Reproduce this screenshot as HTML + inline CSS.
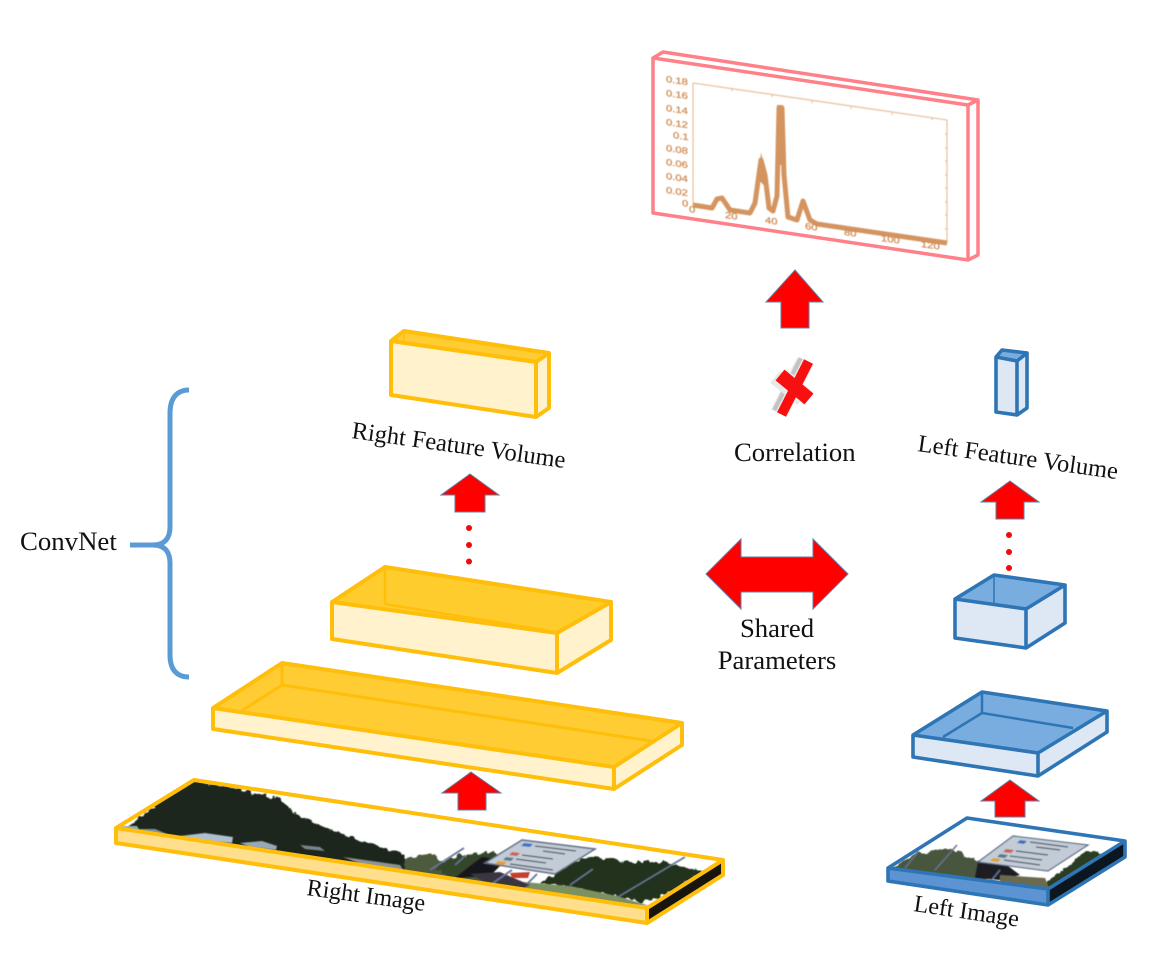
<!DOCTYPE html>
<html>
<head>
<meta charset="utf-8">
<style>
html,body{margin:0;padding:0;background:#fff;width:1169px;height:956px;overflow:hidden}
svg{display:block}
text{font-family:"Liberation Serif",serif;fill:#111;font-size:24.500px}
.c text{font-family:"Liberation Sans",sans-serif;fill:#cf8a50;font-size:9px;stroke:#cf8a50;stroke-width:.25}
.y{stroke:#ffbe0a;stroke-width:4;stroke-linejoin:round;fill:none}
.b{stroke:#2e75b6;stroke-width:3.600;stroke-linejoin:round;fill:none}
.p{stroke:#ff8088;stroke-width:3.500;stroke-linejoin:round;fill:none}
.a{fill:#ff0000;stroke:#5f7fa5;stroke-width:1}
</style>
</head>
<body>
<svg width="1169" height="956" viewBox="0 0 1169 956" xmlns="http://www.w3.org/2000/svg">
<defs>
<filter id="bl" x="-5%" y="-5%" width="110%" height="110%"><feGaussianBlur stdDeviation="0.5"/></filter>
<filter id="tr" x="-5%" y="-10%" width="110%" height="120%">
<feTurbulence type="fractalNoise" baseFrequency="0.16" numOctaves="2" seed="3" result="n"/>
<feDisplacementMap in="SourceGraphic" in2="n" scale="8" xChannelSelector="R" yChannelSelector="G"/>
<feGaussianBlur stdDeviation="0.5"/>
</filter>
<clipPath id="rc"><polygon points="194,780 723,860 647,908 116,828"/></clipPath>
<clipPath id="lc"><polygon points="967,818 1125,841 1048,889 888,868"/></clipPath>
</defs>

<!-- Pink chart box -->
<polygon points="653,58 968,105 968,260 653,213" fill="#fff"/>
<polygon points="653,58 663,52 978,100 968,105" fill="#fff"/>
<polygon points="968,105 978,100 978,255 968,260" fill="#fff"/>
<path class="p" d="M653,58 L968,105 L968,260 L653,213 Z M653,58 L663,52 L978,100 L968,105 M978,100 L978,255 L968,260"/>
<g filter="url(#bl)">
<path d="M693,83 L947,120 L947,243" fill="none" stroke="#e8c4a4" stroke-width="1.300"/>
<path d="M693,83 L693,205" fill="none" stroke="#e8c4a4" stroke-width="1.300"/>
<path d="M732,89v2M772,95v2M812,101v2M851,107v2M892,113v2M932,118v2M947,134h-2M947,148h-2M947,161h-2M947,175h-2M947,188h-2M947,202h-2M947,215h-2M947,229h-2" stroke="#e0b595" stroke-width="1" fill="none"/>
<polyline fill="none" stroke="#d49460" stroke-width="5" stroke-linejoin="round" points="693,205 712,208 717,199 722,198 730,210 750,213 755,203 761,160 765,175 769,208 773,211 777,196 779,108 782,108 784,175 788,217 797,220 803,201 810,220 817,224 947,243"/>
<path d="M777,105 L783,105 L785,165 L776,165 Z" fill="#d49460"/>
<path d="M761,152 L766,175 L768,190 L759,180 Z" fill="#d49460"/>
<g class="c">
<text transform="translate(666,82) skewY(8) scale(1.250,1)">0.18</text>
<text transform="translate(666,96) skewY(8) scale(1.250,1)">0.16</text>
<text transform="translate(666,111) skewY(8) scale(1.250,1)">0.14</text>
<text transform="translate(666,125) skewY(8) scale(1.250,1)">0.12</text>
<text transform="translate(673,138) skewY(8) scale(1.250,1)">0.1</text>
<text transform="translate(666,151) skewY(8) scale(1.250,1)">0.08</text>
<text transform="translate(666,165) skewY(8) scale(1.250,1)">0.06</text>
<text transform="translate(666,179) skewY(8) scale(1.250,1)">0.04</text>
<text transform="translate(666,193) skewY(8) scale(1.250,1)">0.02</text>
<text transform="translate(682,206) skewY(8) scale(1.250,1)">0</text>
<text transform="translate(689,212) skewY(8) scale(1.250,1)">0</text>
<text transform="translate(725,218) skewY(8) scale(1.250,1)">20</text>
<text transform="translate(765,223) skewY(8) scale(1.250,1)">40</text>
<text transform="translate(805,229) skewY(8) scale(1.250,1)">60</text>
<text transform="translate(844,235) skewY(8) scale(1.250,1)">80</text>
<text transform="translate(881,241) skewY(8) scale(1.250,1)">100</text>
<text transform="translate(921,247) skewY(8) scale(1.250,1)">120</text>
</g>
</g>

<!-- Arrows -->
<polygon class="a" points="795,270 823,302 809,302 809,328 781,328 781,302 766,302"/>
<polygon class="a" points="470,474 499,495 485,495 485,512 455,512 455,495 441,495"/>
<polygon class="a" points="471,772 501,793 486,793 486,810 458,810 458,793 442,793"/>
<polygon class="a" points="1010,481 1039,502 1024,502 1024,519 996,519 996,502 981,502"/>
<polygon class="a" points="1010,780 1039,801 1025,801 1025,817 995,817 995,801 981,801"/>
<polygon class="a" points="706,574 741,539 741,557 813,557 813,539 848,574 813,609 813,592 741,592 741,609"/>

<!-- Dots -->
<g fill="#f00a0a">
<circle cx="469" cy="528" r="3"/><circle cx="469" cy="545" r="3"/><circle cx="469" cy="561.500" r="3"/>
<circle cx="1009" cy="535" r="3"/><circle cx="1009" cy="552" r="3"/><circle cx="1009" cy="568" r="3"/>
</g>

<!-- Correlation X -->
<g fill="none">
<path d="M802,360 L776,412" stroke="#e8e8e8" stroke-width="11"/>
<path d="M802.500,359 L776,411" stroke="#c4c4c4" stroke-width="8"/>
<path d="M775,377 L802,399" stroke="#e8e8e8" stroke-width="15"/>
<path d="M808.500,361.500 L781.500,414.500" stroke="#eeeeee" stroke-width="12.500"/>
<path d="M780,375 L809,399" stroke="#eeeeee" stroke-width="17"/>
<path d="M808.500,361.500 L781.500,414.500" stroke="#f81010" stroke-width="10"/>
<path d="M780,375 L809,399" stroke="#f81010" stroke-width="14"/>
</g>

<!-- Right feature volume -->
<polygon points="391,341 404,331 549,353 536,362" fill="#ffcc33"/>
<polygon points="391,341 536,362 536,417 391,395" fill="#fff2cc"/>
<polygon points="536,362 549,353 549,408 536,417" fill="#fff2cc"/>
<path class="y" d="M391,341 L404,331 L549,353 L549,408 L536,417 L391,395 Z"/>
<path class="y" d="M391,341 L536,362 L549,353 M536,362 L536,417"/>
<path d="M404,331 L404,343 M404,343 L530,361" stroke="#ffbe0a" stroke-width="1.500" fill="none"/>

<!-- Middle yellow tray -->
<polygon points="332,602 385,567 611,602 557,633" fill="#ffcc2e"/>
<polygon points="332,602 557,633 557,673 332,639" fill="#fff2cc"/>
<polygon points="557,633 611,602 611,640 557,673" fill="#fff2cc"/>
<path class="y" d="M332,602 L385,567 L611,602 L611,640 L557,673 L332,639 Z"/>
<path class="y" d="M332,602 L557,633 L611,602 M557,633 L557,673"/>
<path d="M385,567 L385,605 M385,604 L545,630" stroke="#ffbe0a" stroke-width="2.500" fill="none"/>

<!-- Large yellow tray -->
<polygon points="213,708 282,663 682,723 614,767" fill="#ffcc33"/>
<polygon points="213,708 614,767 614,789 213,729" fill="#fff2cc"/>
<polygon points="614,767 682,723 682,745 614,789" fill="#fff2cc"/>
<path class="y" d="M213,708 L282,663 L682,723 L682,745 L614,789 L213,729 Z"/>
<path class="y" d="M213,708 L614,767 L682,723 M614,767 L614,789"/>
<path d="M282,663 L282,685 L651,741 M282,685 L243,710" stroke="#ffbe0a" stroke-width="3" fill="none"/>

<!-- Right image -->
<polygon points="194,780 723,860 647,908 116,828" fill="#fff"/>
<g clip-path="url(#rc)">
<g filter="url(#tr)">
<polygon points="186,778 223,786 253,793 283,800 293,813 310,820 330,830 350,837 377,845 403,855 412,866 405,875 340,866 240,852 170,842 120,834" fill="#1b281a"/>
<polygon points="405,858 430,852 440,860 450,868 520,884 500,888 430,880 403,872" fill="#4e5a3c"/>
<polygon points="448,858 470,854 495,852 505,859 488,868 455,880 435,870" fill="#34462a"/>
<polygon points="577,860 597,857 630,862 663,862 697,870 707,870 660,897 643,902 617,897 570,888 540,883 553,875" fill="#22321c"/>
</g>
<g filter="url(#bl)">
<polygon points="343,857 400,865 406,874 372,868" fill="#8d9496"/>
<polygon points="180,836 205,833 233,837 232,843 205,841" fill="#aebfd0"/>
<polygon points="240,843 262,841 277,846 276,850 250,847" fill="#98a8b6"/>
<polygon points="137,829 155,829 167,834 150,834" fill="#7f93a3"/>
<polygon points="120,826 137,826 140,831 125,830" fill="#94abbf"/>
<polygon points="300,845 320,847 325,851 305,849" fill="#78858e"/>
<polygon points="482,857 506,860 490,876 455,878 470,866" fill="#17171c"/>
<polygon points="500,880 570,886 617,896 650,906 600,902 520,892" fill="#7c9060"/>
<polygon points="470,874 500,872 530,885 520,890 490,885" fill="#3a3540"/>
<polygon points="510,873 530,872 528,878 512,878" fill="#c04030"/>
<path d="M464,848 L430,870 M685,857 L618,897 M593,869 L570,885 M512,870 L493,883 M537,874 L527,884 M464,857 L455,865" stroke="#66739a" stroke-width="1.800" fill="none"/>
<polygon points="522,840 595,849 555,874 485,863" fill="#c3ccd6" stroke="#5a6a85" stroke-width="1.500"/>
<polygon points="524,843 533,844 530,847 521,846" fill="#3c72c4"/>
<polygon points="512,852 520,853 517,856 509,855" fill="#c9625c"/>
<polygon points="506,857 514,858 511,861 503,860" fill="#5a7a88"/>
<polygon points="498,861 507,862 504,865 495,864" fill="#e0a030"/>
<path d="M535,846 L576,851 M543,851 L565,854 M522,855 L553,859 M516,859 L546,863 M510,864 L553,870" stroke="#4a5565" stroke-width="1.300" fill="none"/>
</g></g>
<polygon points="116,828 647,908 647,923 116,843" fill="#ffdf8c"/>
<polygon points="647,908 723,860 723,875 647,923" fill="#17150e"/>
<path class="y" d="M116,828 L194,780 L723,860 L723,875 L647,923 L116,843 Z" stroke-width="3"/>
<path class="y" d="M116,828 L647,908 L723,860 M647,908 L647,923"/>

<!-- Left feature volume -->
<polygon points="996,357 1002,350 1027,353 1017,361" fill="#7bacdd"/>
<polygon points="996,357 1017,361 1017,415 996,412" fill="#dee8f4"/>
<polygon points="1017,361 1027,353 1027,408 1017,415" fill="#dee8f4"/>
<path class="b" d="M996,357 L1002,350 L1027,353 L1027,408 L1017,415 L996,412 Z M996,357 L1017,361 L1027,353 M1017,361 L1017,415"/>

<!-- Blue box -->
<polygon points="955,599 994,575 1065,585 1026,609" fill="#7aaddf"/>
<polygon points="955,599 1026,609 1026,648 955,638" fill="#dee8f4"/>
<polygon points="1026,609 1065,585 1065,623 1026,648" fill="#dee8f4"/>
<path class="b" d="M955,599 L994,575 L1065,585 L1065,623 L1026,648 L955,638 Z M955,599 L1026,609 L1065,585 M1026,609 L1026,648"/>
<path d="M994,575 L994,604" stroke="#2e75b6" stroke-width="1.500" fill="none"/>

<!-- Blue tray -->
<polygon points="913,735 982,692 1107,711 1038,753" fill="#7aaddf"/>
<polygon points="913,735 1038,753 1038,776 913,757" fill="#dee8f4"/>
<polygon points="1038,753 1107,711 1107,732 1038,776" fill="#dee8f4"/>
<path class="b" d="M913,735 L982,692 L1107,711 L1107,732 L1038,776 L913,757 Z M913,735 L1038,753 L1107,711 M1038,753 L1038,776"/>
<path d="M982,692 L982,713 L1073,728 M982,713 L943,737" stroke="#2e75b6" stroke-width="2.500" fill="none"/>

<!-- Left image -->
<polygon points="967,818 1125,841 1048,889 888,868" fill="#fff"/>
<g clip-path="url(#lc)">
<g filter="url(#tr)">
<polygon points="888,870 897,865 913,855 947,848 977,860 993,871 983,884" fill="#46563c"/>
<polygon points="1055,875 1085,852 1102,853 1112,856 1060,888 1040,888" fill="#2b3d24"/>
</g>
<g filter="url(#bl)">
<polygon points="978,862 1000,860 1020,875 1000,880 975,878" fill="#1a1a20"/>
<polygon points="1000,875 1045,878 1050,890 1000,885" fill="#6a6a50"/>
<path d="M957,845 L935,870 M918,852 L905,868 M1000,870 L990,882" stroke="#66739a" stroke-width="1.500" fill="none"/>
<polygon points="1013,836 1088,845 1048,871 978,862" fill="#c3ccd6" stroke="#5a6a85" stroke-width="1.200"/>
<polygon points="1020,840 1027,841 1024,844 1017,843" fill="#3c72c4"/>
<polygon points="1006,849 1014,850 1011,853 1003,852" fill="#c9625c"/>
<polygon points="1000,854 1008,855 1005,858 997,857" fill="#5a7a88"/>
<polygon points="993,858 1001,859 998,862 990,861" fill="#e0a030"/>
<path d="M1030,842 L1068,847 M1036,847 L1060,850 M1016,851 L1048,855 M1010,856 L1042,860 M1004,860 L1040,865" stroke="#4a5565" stroke-width="1.200" fill="none"/>
</g></g>
<polygon points="888,868 1048,889 1048,905 888,881" fill="#5b93d3"/>
<polygon points="1048,889 1125,841 1125,857 1048,905" fill="#0c1620"/>
<path class="b" d="M888,868 L967,818 L1125,841 L1125,857 L1048,905 L888,881 Z M888,868 L1048,889 L1125,841 M1048,889 L1048,905"/>

<!-- Brace -->
<path d="M189,390 C177,390 170,398 170,413 L170,527 C170,538 165,545 153,545 L130,545 M153,545 C165,545 170,552 170,563 L170,655 C170,670 177,677 189,677" fill="none" stroke="#5b9bd5" stroke-width="5"/>

<!-- Labels -->
<text x="20" y="550" style="font-size:26.800px">ConvNet</text>
<text x="734" y="461" style="font-size:26.700px">Correlation</text>
<text x="777" y="637" text-anchor="middle" style="font-size:26.700px">Shared</text>
<text x="777" y="669" text-anchor="middle" style="font-size:26.700px">Parameters</text>
<text transform="translate(351,438) rotate(8)">Right Feature Volume</text>
<text transform="translate(917,451) rotate(8)">Left Feature Volume</text>
<text transform="translate(306,895) rotate(7.700)" style="font-size:24px">Right Image</text>
<text transform="translate(913,911) rotate(8.500)" style="font-size:24px">Left Image</text>
</svg>
</body>
</html>
